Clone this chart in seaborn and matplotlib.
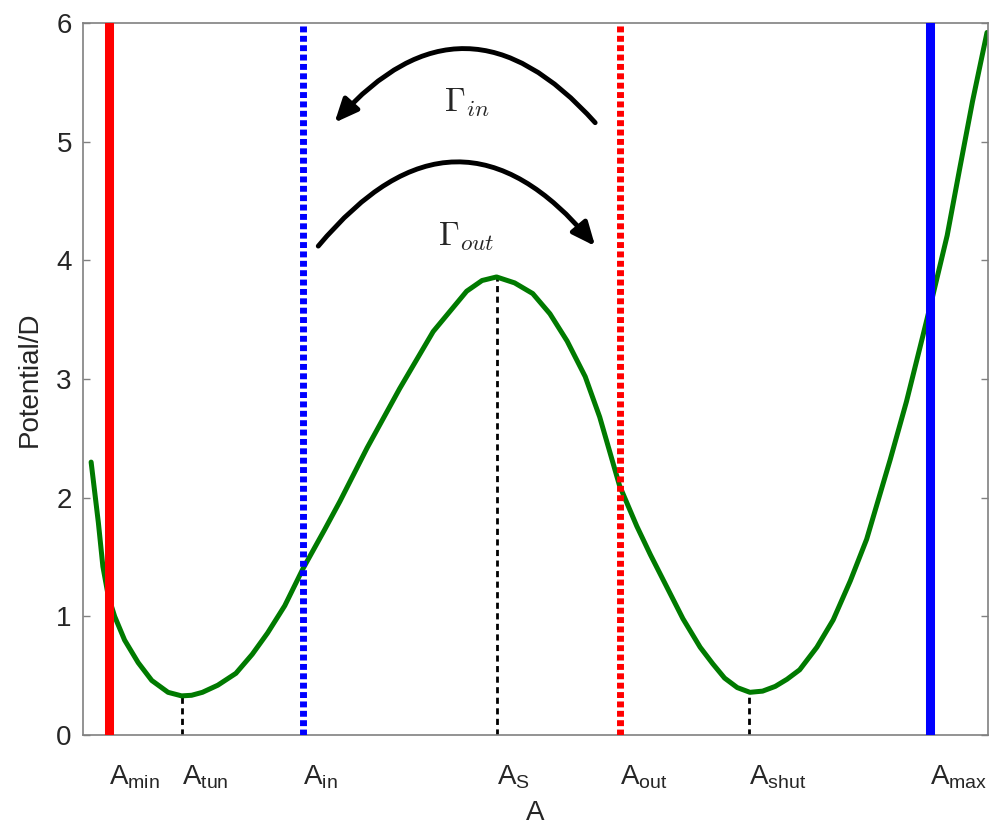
import numpy as np
import pandas as pd
import matplotlib
matplotlib.use('Agg')
import matplotlib.pyplot as plt
import matplotlib.transforms as mtransforms
import seaborn as sns

# Potential curve (A in arbitrary units)
A_vals = [0.9, 1.7, 2.2, 2.8, 3.5, 4.6, 6.1, 7.6, 9.4, 10.9, 12.0, 13.2, 14.9,
          16.9, 18.7, 20.4, 22.3, 24.3, 26.7, 28.4, 31.4, 35.0, 38.7, 42.4,
          44.1, 45.7, 47.7, 49.7, 51.6, 53.5, 55.5, 57.1, 59.3, 61.2, 62.7,
          64.5, 66.3, 68.2, 69.6, 70.9, 72.3, 73.7, 75.1, 76.5, 77.8, 79.2,
          81.1, 82.9, 84.8, 86.6, 89.2, 91.0, 92.8, 93.9, 95.5, 96.9, 98.3, 99.9]
U_vals = [2.30, 1.79, 1.42, 1.17, 1.00, 0.80, 0.61, 0.46, 0.36, 0.33, 0.335, 0.36, 0.42,
          0.52, 0.68, 0.86, 1.09, 1.40, 1.73, 1.97, 2.42, 2.92, 3.40, 3.74,
          3.83, 3.86, 3.81, 3.72, 3.55, 3.32, 3.02, 2.68, 2.10, 1.76, 1.52,
          1.25, 0.98, 0.74, 0.60, 0.48, 0.40, 0.36, 0.37, 0.41, 0.47, 0.55,
          0.74, 0.97, 1.30, 1.65, 2.32, 2.81, 3.36, 3.70, 4.21, 4.78, 5.34, 5.92]

# Special points on the A axis
tick_names = ['min', 'tun', 'in', 'S', 'out', 'shut', 'max']
tick_pos = [2.9, 10.9, 24.3, 45.7, 59.3, 73.6, 93.6]

# extrema marked with dashed drop lines
extrema_A = [10.9, 45.7, 73.6]
extrema_U = [0.33, 3.86, 0.36]

# boundary lines: position, colour, style
bounds_A = [2.9, 24.3, 59.3, 93.6]
bounds_color = ['#ff0000', '#0000ff', '#ff0000', '#0000ff']
bounds_dotted = [False, True, True, False]

# rate arrows (start, end) and labels
arrow_in = [(56.6, 5.16), (27.8, 5.16)]
arrow_out = [(26.0, 4.12), (56.6, 4.12)]
label_in = (42.4, 5.33)
label_out = (42.4, 4.2)

sns.set_style('white')
plt.rcParams['font.family'] = ['Liberation Sans', 'DejaVu Sans']
plt.rcParams['mathtext.fontset'] = 'custom'
plt.rcParams['mathtext.rm'] = 'Liberation Sans'

fig = plt.figure(figsize=(9.89, 8.33), dpi=100)
ax = fig.add_axes([0.0839, 0.1176, 0.9150, 0.8548])

df = pd.DataFrame({'A': A_vals, 'U': U_vals})

# dashed drop lines at the extrema
ax.vlines(extrema_A, 0, extrema_U, colors='black', linestyles=(0, (2.2, 1.6)),
          linewidth=2, zorder=1)

sns.lineplot(data=df, x='A', y='U', color='#007a00', linewidth=3.6, ax=ax,
             sort=False, zorder=2)

for a, c, dotted in zip(bounds_A, bounds_color, bounds_dotted):
    if dotted:
        ax.axvline(a, color=c, linewidth=5, linestyle=(0, (0.85, 0.5)), zorder=3)
    else:
        ax.axvline(a, color=c, linewidth=6.5, zorder=3)

# arrows
ax.annotate('', xy=arrow_in[1], xytext=arrow_in[0],
            arrowprops=dict(arrowstyle='-|>,head_length=0.5,head_width=0.22',
                            color='black', lw=3.5,
                            mutation_scale=28, shrinkA=0, shrinkB=0,
                            connectionstyle='arc3,rad=0.56'))
ax.annotate('', xy=arrow_out[1], xytext=arrow_out[0],
            arrowprops=dict(arrowstyle='-|>,head_length=0.5,head_width=0.22',
                            color='black', lw=3.5,
                            mutation_scale=28, shrinkA=0, shrinkB=0,
                            connectionstyle='arc3,rad=-0.6'))
ax.text(*label_in, r'$\Gamma_{in}$', math_fontfamily='cm', fontsize=24,
        ha='center', va='center')
ax.text(*label_out, r'$\Gamma_{out}$', math_fontfamily='cm', fontsize=24,
        ha='center', va='center')

ax.set_xlim(0, 100)
ax.set_ylim(0, 6)
ax.set_yticks(range(0, 7))
ax.set_xticks(tick_pos)
ax.set_xticklabels([r'A$_{\mathregular{%s}}$' % n for n in tick_names], ha='left')
offset = mtransforms.ScaledTranslation(-10 / 100, 0, fig.dpi_scale_trans)
for lbl in ax.get_xticklabels():
    lbl.set_transform(lbl.get_transform() + offset)

ax.tick_params(axis='y', direction='in', length=5, width=1, color='#808080',
               labelsize=20, right=True, left=True, pad=8)
ax.tick_params(axis='x', length=0, labelsize=20, pad=20)
for s in ax.spines.values():
    s.set_color('#808080')
    s.set_linewidth(1.2)

ax.set_xlabel('A', fontsize=20, labelpad=7)
ax.set_ylabel('Potential/D', fontsize=20, labelpad=10)

fig.savefig('out.png', dpi=100)
